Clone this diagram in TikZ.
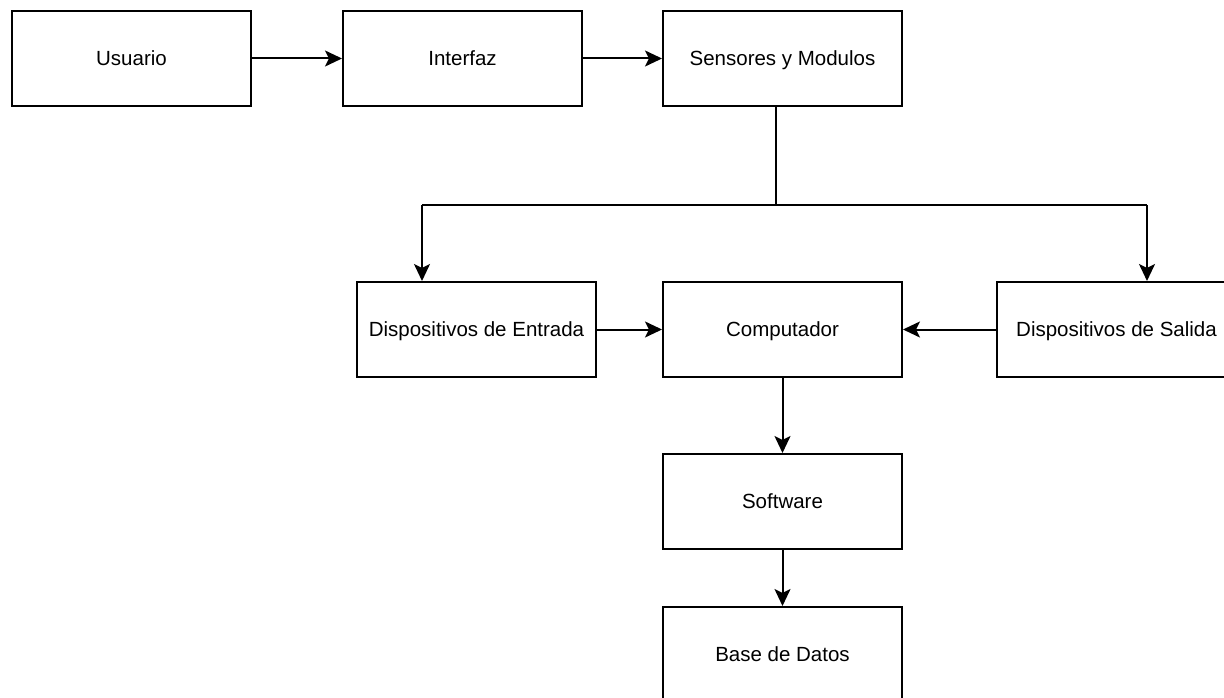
\documentclass[tikz,border=0pt]{standalone}
\usepackage{fontspec}
\setmainfont{Liberation Sans}
\usetikzlibrary{arrows.meta}
\begin{document}
\begin{tikzpicture}[x=1pt,y=-1pt,
  blk/.style={draw=black,line width=2pt,fill=white,minimum width=239pt,minimum height=95pt,
    inner sep=0pt,text height=14.7pt,text depth=0pt,
    font=\fontsize{20.5pt}{24pt}\selectfont,text=black,anchor=north west},
  conn/.style={draw=black,line width=2pt},
  arr/.style={conn,-{Stealth[length=17pt,width=16pt,inset=4pt]}}]
\useasboundingbox (0,0) rectangle (1224,698);
\clip (0,0) rectangle (1224,698);
% boxes (placed by their top-left corners)
\node[blk] (usr) at (11,10) {Usuario};
\node[blk] (itf) at (342,10) {Interfaz};
\node[blk] (sen) at (662,10) {Sensores y Modulos};
\node[blk] (ent) at (356,281) {Dispositivos de Entrada};
\node[blk] (cmp) at (662,281) {Computador};
\node[blk] (sal) at (996,281) {Dispositivos de Salida};
\node[blk] (sw)  at (662,453) {Software};
\node[blk] (bd)  at (662,606) {Base de Datos};
% split from the sensors down to the input and output devices
\coordinate (jn) at (776,205);
\coordinate (jl) at (422,205);
\coordinate (jr) at (1147,205);
\draw[conn] (sen.south -| jn) -- (jn);
\draw[conn] (jl) -- (jr);
\draw[arr] (jl) -- (jl |- ent.north);
\draw[arr] (jr) -- (jr |- sal.north);
% straight links
\draw[arr] (usr.east) -- (itf.west);
\draw[arr] (itf.east) -- (sen.west);
\draw[arr] (ent.east) -- (cmp.west);
\draw[arr] (sal.west) -- (cmp.east);
\draw[arr] (cmp.south) -- (sw.north);
\draw[arr] (sw.south) -- (bd.north);
\end{tikzpicture}
\end{document}
